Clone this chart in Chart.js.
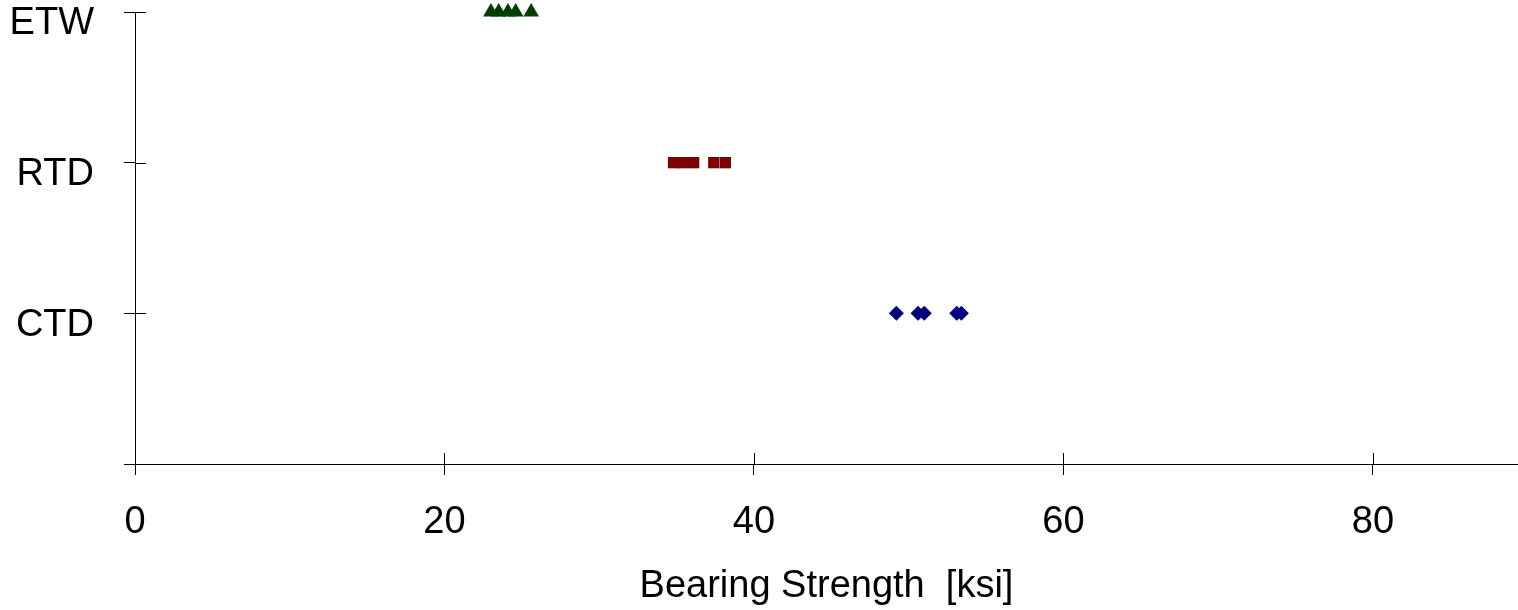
<!DOCTYPE html>
<html>
<head>
<meta charset="utf-8">
<script src="https://cdn.jsdelivr.net/npm/chart.js@4"></script>
<style>
  html, body { margin: 0; padding: 0; background: #fff; overflow: hidden; }
</style>
</head>
<body>
<canvas id="chart" width="1518" height="610"></canvas>
<script>
// values (ksi)
const etwValues = [23.0, 23.5, 24.1, 24.6, 25.6];
const rtdValues = [34.8, 35.4, 36.1, 37.4, 38.15];
const ctdValues = [49.2, 50.6, 51.0, 53.1, 53.4];

const categoryLabels = { 1: 'CTD', 2: 'RTD', 3: 'ETW' };
const xTicks = [0, 20, 40, 60, 80];
const yTicks = [0, 1, 2, 3];

const toPoints = (vals, level) => vals.map(v => ({ x: v, y: level }));

// ticks in the picture cross the axis line, so draw the inner half too
const crossTicks = {
    id: 'crossTicks',
    afterDraw(chart) {
        const ctx = chart.ctx;
        const xs = chart.scales.x, ys = chart.scales.y;
        const len = 11;
        ctx.save();
        ctx.strokeStyle = '#000';
        ctx.lineWidth = 1;
        ctx.beginPath();
        xTicks.forEach(t => {
            const px = Math.round(xs.getPixelForValue(t)) + 0.5;
            ctx.moveTo(px, ys.bottom);
            ctx.lineTo(px, ys.bottom - len);
        });
        yTicks.forEach(t => {
            const py = Math.round(ys.getPixelForValue(t)) + 0.5;
            ctx.moveTo(xs.left, py);
            ctx.lineTo(xs.left + len, py);
        });
        ctx.stroke();
        ctx.restore();
    }
};

const font = { family: 'Liberation Sans', size: 38 };

const ctx = document.getElementById('chart').getContext('2d');
new Chart(ctx, {
    type: 'scatter',
    data: {
        datasets: [
            { label: 'ETW', data: toPoints(etwValues, 3), pointStyle: 'triangle', pointRadius: 9,
              backgroundColor: '#003f00', borderColor: '#003f00', borderWidth: 0, clip: false },
            { label: 'RTD', data: toPoints(rtdValues, 2), pointStyle: 'rect', pointRadius: 8,
              backgroundColor: '#7f0000', borderColor: '#7f0000', borderWidth: 0, clip: false },
            { label: 'CTD', data: toPoints(ctdValues, 1), pointStyle: 'rectRot', pointRadius: 7.5,
              backgroundColor: '#00007f', borderColor: '#00007f', borderWidth: 0, clip: false }
        ]
    },
    options: {
        responsive: false,
        animation: false,
        layout: { autoPadding: false, padding: { top: 12, right: 0, left: 0, bottom: 0 } },
        plugins: { legend: { display: false }, tooltip: { enabled: false } },
        scales: {
            x: {
                type: 'linear',
                min: 0,
                max: 89.37,
                afterBuildTicks: (scale) => { scale.ticks = xTicks.map(v => ({ value: v })); },
                afterFit: (scale) => { scale.height = 146; scale.paddingLeft = 0; scale.paddingRight = 0; },
                border: { color: '#000', width: 1 },
                grid: { drawOnChartArea: false, color: '#000', tickLength: 11 },
                ticks: { color: '#000', padding: 25, maxRotation: 0, font: font },
                title: {
                    display: true,
                    text: 'Bearing Strength  [ksi]',
                    color: '#000',
                    padding: { top: 0, bottom: 1 },
                    font: font
                }
            },
            y: {
                type: 'linear',
                min: 0,
                max: 3,
                afterBuildTicks: (scale) => { scale.ticks = yTicks.map(v => ({ value: v })); },
                afterFit: (scale) => { scale.width = 135; scale.paddingTop = 0; scale.paddingBottom = 0; },
                border: { color: '#000', width: 1 },
                grid: { drawOnChartArea: false, color: '#000', tickLength: 11 },
                ticks: {
                    color: '#000',
                    padding: 30,
                    labelOffset: 12,
                    font: font,
                    callback: (v) => categoryLabels[v] || ''
                }
            }
        }
    },
    plugins: [crossTicks]
});
</script>
</body>
</html>
